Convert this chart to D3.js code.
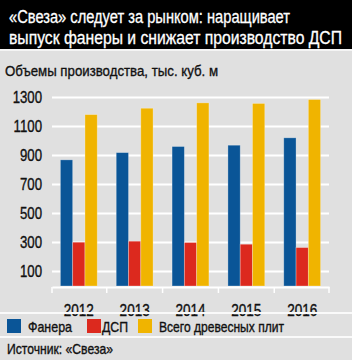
<!DOCTYPE html>
<html>
<head>
<meta charset="utf-8">
<script src="https://cdn.jsdelivr.net/npm/d3@7"></script>
<style>
  body { margin: 0; background: #e0e0e0; }
  svg { display: block; }
  text { font-family: "Liberation Sans", Arial, sans-serif; }
  .dark { fill: #111; stroke: #111; stroke-width: 0.35px; }
</style>
</head>
<body>
<div id="canvas"></div>
<script>
var years = ["2012", "2013", "2014", "2015", "2016"]
var series = ["Фанера", "ДСП", "Всего древесных плит"]
var plywood = [870, 920, 962, 971, 1022]
var chipboard = [302, 309, 300, 288, 265]
var allBoards = [1182, 1226, 1263, 1259, 1286]
var yTicks = [100, 300, 500, 700, 900, 1100, 1300]
var colors = ["#0a5597", "#dc291e", "#f0b400"]

var titleLines = ["«Свеза» следует за рынком: наращивает", "выпуск фанеры и снижает производство ДСП"]
var axisTitle = "Объемы производства, тыс. куб. м"
var source = "Источник: «Свеза»"

var width = 352
var height = 360

// no condensed font installed, so squeeze text horizontally
function squeeze(sel, target) {
    sel.each(function (d, i) {
        var natural = this.getComputedTextLength()
        var w = typeof target === "function" ? target(d, i, natural) : target
        d3.select(this).attr("textLength", w).attr("lengthAdjust", "spacingAndGlyphs")
    })
}
function factor(f) {
    return function (d, i, natural) { return natural * f }
}

var svg = d3.select("#canvas")
    .append("svg")
    .attr("width", width)
    .attr("height", height)

svg.append("rect").attr("width", width).attr("height", height).attr("fill", "#e0e0e0")

// header
svg.append("rect").attr("width", width).attr("height", 49).attr("fill", "#000")
svg.append("line").attr("x1", 0).attr("x2", width).attr("y1", 50).attr("y2", 50)
    .attr("stroke", "#f4f4f4").attr("stroke-width", 2)
var titleWidths = [281, 333]
svg.selectAll(".title")
    .data(titleLines)
    .enter().append("text")
    .attr("class", "title")
    .attr("x", 9)
    .attr("y", function (d, i) { return 22.5 + i * 21 })
    .attr("fill", "#fff")
    .attr("stroke", "#fff")
    .attr("stroke-width", 0.3)
    .style("font-size", "17.5px")
    .text(function (d) { return d })
    .call(squeeze, function (d, i) { return titleWidths[i] })

svg.append("text")
    .attr("class", "dark")
    .attr("x", 5).attr("y", 76)
    .style("font-size", "15.5px")
    .text(axisTitle)
    .call(squeeze, 213)

var xScale = d3.scaleBand().domain(years).range([52, 329]).paddingInner(0.34).paddingOuter(0.15)
var xSub = d3.scaleBand().domain(d3.range(series.length)).range([0, xScale.bandwidth()])
var yScale = d3.scaleLinear().domain([0, 1300]).range([286, 97.5])

// grid
svg.selectAll(".grid")
    .data(yTicks)
    .enter().append("line")
    .attr("class", "grid")
    .attr("x1", 52).attr("x2", 329)
    .attr("y1", function (d) { return yScale(d) })
    .attr("y2", function (d) { return yScale(d) })
    .attr("stroke", "#fff").attr("stroke-width", 2)

svg.selectAll(".ylabel")
    .data(yTicks)
    .enter().append("text")
    .attr("class", "ylabel dark")
    .attr("x", 42)
    .attr("y", function (d) { return yScale(d) + 5.8 })
    .attr("text-anchor", "end")
    .style("font-size", "16.5px")
    .text(function (d) { return d })
    .call(squeeze, factor(0.8))

// bars
var table = years.map(function (y, i) {
    return { year: y, values: [plywood[i], chipboard[i], allBoards[i]] }
})
var groups = svg.selectAll(".group")
    .data(table)
    .enter().append("g")
    .attr("class", "group")
    .attr("transform", function (d) { return `translate(${xScale(d.year)},0)` })
groups.selectAll("rect")
    .data(function (d) { return d.values })
    .enter().append("rect")
    .attr("x", function (d, i) { return xSub(i) })
    .attr("y", function (d) { return yScale(d) })
    .attr("width", xSub.bandwidth())
    .attr("height", function (d) { return yScale(0) - yScale(d) })
    .attr("fill", function (d, i) { return colors[i] })
    .attr("stroke", "rgba(255,255,255,0.35)")
    .attr("stroke-width", 0.8)

// x axis
var xAxis = svg.append("g")
    .attr("transform", "translate(0,287)")
    .call(d3.axisBottom(xScale).tickSize(0).tickPadding(17))
xAxis.select(".domain").attr("stroke", "#fff").attr("stroke-width", 2)
xAxis.selectAll("text")
    .attr("class", "dark")
    .style("font-size", "16.5px")
    .style("font-family", "\"Liberation Sans\", Arial, sans-serif")
    .call(squeeze, factor(0.82))
var bounds = years.map(function (y) { return xScale(y) - xScale.step() * xScale.paddingInner() / 2 })
bounds.push(329)
bounds[0] = 52
svg.selectAll(".xtick")
    .data(bounds)
    .enter().append("line")
    .attr("class", "xtick")
    .attr("x1", function (d) { return d }).attr("x2", function (d) { return d })
    .attr("y1", 287).attr("y2", 293)
    .attr("stroke", "#fff").attr("stroke-width", 1.5)

// separators
svg.selectAll(".sep")
    .data([313, 337])
    .enter().append("line")
    .attr("class", "sep")
    .attr("x1", 0).attr("x2", width)
    .attr("y1", function (d) { return d }).attr("y2", function (d) { return d })
    .attr("stroke", "#fafafa").attr("stroke-width", 2)

// legend
var legendX = [7, 87, 138]
var legendWidths = [44, 26, 125]
var legend = svg.selectAll(".legend")
    .data(series)
    .enter().append("g")
    .attr("class", "legend")
    .attr("transform", function (d, i) { return `translate(${legendX[i]},319)` })
legend.append("rect")
    .attr("width", 14).attr("height", 14)
    .attr("fill", function (d, i) { return colors[i] })
legend.append("text")
    .attr("class", "dark")
    .attr("x", function (d, i) { return i == 1 ? 15 : 21 })
    .attr("y", 12.5)
    .style("font-size", "14.5px")
    .text(function (d) { return d })
    .call(squeeze, function (d, i) { return legendWidths[i] })

svg.append("text")
    .attr("class", "dark")
    .attr("x", 7).attr("y", 354)
    .style("font-size", "14.5px")
    .text(source)
    .call(squeeze, 106)
</script>
</body>
</html>
